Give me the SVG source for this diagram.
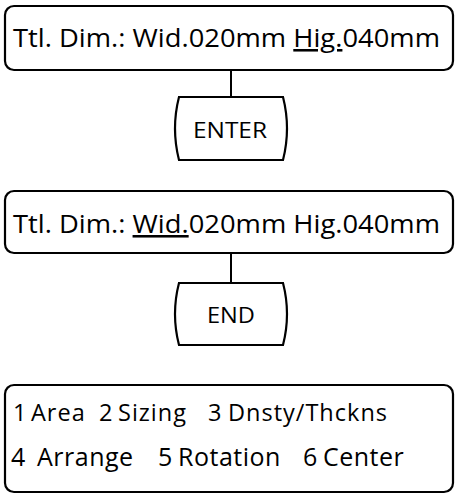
<svg xmlns="http://www.w3.org/2000/svg" width="456" height="501" viewBox="0 0 456 501">
<style>
.box{fill:#fff;stroke:#000;stroke-width:2.2}
.t{font-family:"Open Sans","Noto Sans","Liberation Sans",sans-serif;fill:#000}
.big{font-size:25.5px}
.btn{font-size:22.5px}
.m1{font-size:23.5px;letter-spacing:1px}
.m2{font-size:25px;letter-spacing:0.5px}
.conn{stroke:#000;stroke-width:2;fill:none}
</style>
<rect width="456" height="501" fill="#fff"/>
<g id="connectors">
<line class="conn" x1="231" y1="71" x2="231" y2="97"/>
<line class="conn" x1="231" y1="253" x2="231" y2="283"/>
</g>
<g id="dim1">
<rect class="box" x="5" y="6" width="448" height="64" rx="9"/>
<text class="t big" x="13" y="47" textLength="427" lengthAdjust="spacingAndGlyphs">Ttl. Dim.: Wid.020mm <tspan text-decoration="underline">Hig.</tspan>040mm</text>
</g>
<g id="enter">
<path class="box" d="M179 97 L283 97 Q291 128.5 283 160 L179 160 Q171 128.5 179 97 Z"/>
<text class="t btn" x="193" y="138" textLength="74" lengthAdjust="spacingAndGlyphs">ENTER</text>
</g>
<g id="dim2">
<rect class="box" x="5" y="191" width="448" height="62" rx="9"/>
<text class="t big" x="13" y="233" textLength="427" lengthAdjust="spacingAndGlyphs">Ttl. Dim.: <tspan text-decoration="underline">Wid.</tspan>020mm Hig.040mm</text>
</g>
<g id="end">
<path class="box" d="M179 283 L283 283 Q291 314 283 345 L179 345 Q171 314 179 283 Z"/>
<text class="t btn" x="207" y="323" textLength="48" lengthAdjust="spacingAndGlyphs">END</text>
</g>
<g id="menu">
<rect class="box" x="5" y="385" width="448" height="107" rx="9"/>
<text class="t m1" y="421"><tspan x="13">1</tspan><tspan x="31">Area</tspan><tspan x="99">2</tspan><tspan x="118">Sizing</tspan><tspan x="208">3</tspan><tspan x="228">Dnsty/Thckns</tspan></text>
<text class="t m2" y="466"><tspan x="11">4</tspan><tspan x="37">Arrange</tspan><tspan x="158">5</tspan><tspan x="178">Rotation</tspan><tspan x="303">6</tspan><tspan x="323">Center</tspan></text>
</g>
</svg>
